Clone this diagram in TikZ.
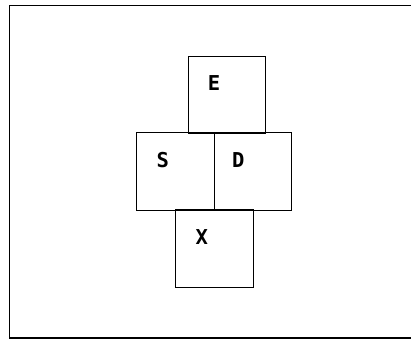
\documentclass[tikz,border=0pt]{standalone}
\usepackage{fontspec}
\setmainfont{DejaVu Sans Mono}
\begin{document}
\begin{tikzpicture}[x=1pt,y=-1pt,
  cell/.style={draw,line width=1.2pt,minimum width=77.5pt,minimum height=77.5pt,inner sep=0pt,outer sep=0pt},
  lbl/.style={font=\bfseries\fontsize{20.5}{20.5}\selectfont,inner sep=0pt}]
\useasboundingbox (0,0) rectangle (411,339);
\draw[line width=1.2pt] (412,5.5) -- (9.5,5.5) -- (9.5,338) -- (412,338);
\node[cell,anchor=north west] (E) at (188.3,56.3) {};
\node[cell,anchor=north west] (S) at (136.7,132.7) {};
\node[cell,anchor=north west] (D) at (214.3,132.7) {};
\node[cell,anchor=north west] (X) at (175.8,210) {};
\node[lbl] (tE) at (214,83) {E};
\node[lbl] (tS) at (162.7,160.5) {S};
\node[lbl] (tD) at (238.3,160.5) {D};
\node[lbl] (tX) at (201.7,236.7) {X};
\end{tikzpicture}
\end{document}
